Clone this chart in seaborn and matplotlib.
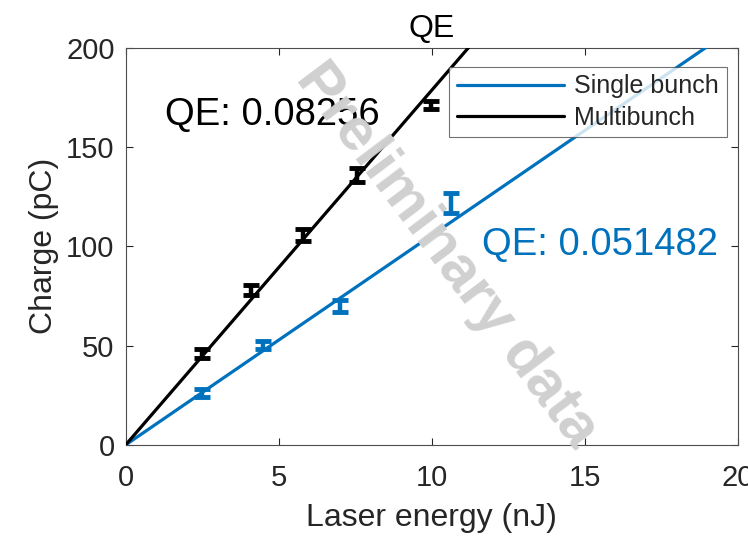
import matplotlib
matplotlib.use("Agg")
import matplotlib.pyplot as plt
import seaborn as sns
import pandas as pd

# data
multi_x = [2.5, 4.1, 5.8, 7.55, 9.97]
multi_y = [46, 78, 105.5, 136, 171]
multi_err = [2.5, 2.5, 3, 3.5, 2]

single_x = [2.5, 4.5, 7.0, 10.65]
single_y = [26, 50.5, 70, 122]
single_err = [2, 2, 3, 5]

fit_x = [0, 20]
multi_fit = [0, 357]
single_fit = [0, 211]

blue = "#0072BD"
axcol = "#262626"

sns.set_style("ticks")
plt.rcParams['font.family'] = ['Liberation Sans', 'DejaVu Sans']

fig = plt.figure(figsize=(7.48, 5.36), dpi=100)
ax = fig.add_axes([0.168, 0.170, 0.818, 0.741])

fits = pd.DataFrame({
    "x": fit_x + fit_x,
    "y": single_fit + multi_fit,
    "series": ["Single bunch"] * 2 + ["Multibunch"] * 2,
})
sns.lineplot(data=fits, x="x", y="y", hue="series",
             palette={"Single bunch": blue, "Multibunch": "black"},
             linewidth=2.3, ax=ax, zorder=3)

ax.errorbar(single_x, single_y, yerr=single_err, fmt="none", ecolor=blue,
            elinewidth=3.2, capsize=5.5, capthick=3.5, zorder=4)
ax.errorbar(multi_x, multi_y, yerr=multi_err, fmt="none", ecolor="black",
            elinewidth=3.2, capsize=5.5, capthick=3.5, zorder=4)

ax.set_xlim(0, 20)
ax.set_ylim(0, 200)
ax.set_xticks([0, 5, 10, 15, 20])
ax.set_yticks([0, 50, 100, 150, 200])
ax.tick_params(direction="in", top=True, right=True, labelsize=21,
               colors=axcol, length=5, width=0.8)
ax.tick_params(axis="x", pad=14)
ax.tick_params(axis="y", pad=8)
for s in ax.spines.values():
    s.set_color("#4d4d4d")
    s.set_linewidth(0.8)
    s.set_visible(True)

ax.set_xlabel("Laser energy (nJ)", fontsize=23, color=axcol, labelpad=8)
ax.set_ylabel("Charge (pC)", fontsize=23, color=axcol, labelpad=5)
ax.set_title("QE", fontsize=23, color="black", pad=8)

ax.text(0.064, 0.806, "QE: 0.08256", transform=ax.transAxes, fontsize=27.5,
        color="black", va="baseline", ha="left", zorder=5)
ax.text(0.582, 0.479, "QE: 0.051482", transform=ax.transAxes, fontsize=27.5,
        color=blue, va="baseline", ha="left", zorder=5)

# watermark
fig.text(0.598, 0.524, "Preliminary data", fontsize=43, fontweight="bold",
         color="#d0d0d0", rotation=-53, ha="center", va="center", zorder=2)

leg = ax.legend(loc="upper right", bbox_to_anchor=(0.982, 0.952), fontsize=18,
                frameon=True, fancybox=False, edgecolor="#4d4d4d",
                handlelength=4.3, borderpad=0.3, labelspacing=0.3,
                handletextpad=0.4, borderaxespad=0)
leg.get_frame().set_linewidth(0.8)
leg.set_zorder(6)
for t in leg.get_texts():
    t.set_color(axcol)

fig.savefig("out.png", dpi=100)
